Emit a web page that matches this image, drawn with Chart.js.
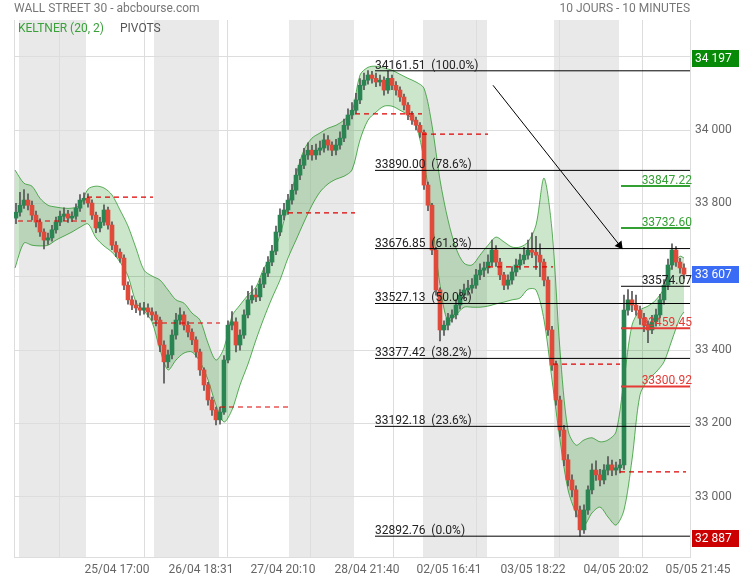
<!DOCTYPE html>
<html>
<head>
<meta charset="utf-8">
<script src="https://cdn.jsdelivr.net/npm/chart.js@4.4.0/dist/chart.umd.min.js"></script>
<style>
  html, body { margin: 0; padding: 0; background: #fff; }
  #wrap { width: 739px; height: 580px; }
</style>
</head>
<body>
<div id="wrap"><canvas id="chart" width="739" height="580"></canvas></div>
<script>
// === Data ===
const TITLE = 'WALL STREET 30 - abcbourse.com';
const PERIOD = '10 JOURS - 10 MINUTES';

// x axis: one unit = one candle slot
const tickPos = [22, 43, 63.5, 84.5, 105, 126, 146.75, 167.25];
const tickLabels = ['25/04 17:00', '26/04 18:31', '27/04 20:10', '28/04 21:40',
  '02/05 16:41', '03/05 18:22', '04/05 20:02', '05/05 21:45'];
const yTicks = [33000, 33200, 33400, 33600, 33800, 34000, 34200];

// trading sessions (boundaries) and their pivot
const sessionBounds = [1, 18.25, 34.75, 51.5, 68.5, 85.25, 102, 118.5, 134.75, 151.5, 168];
const pivots = [33752, 33817, 33474, 33245, 33774, 34044, 33989, 33627, 33362, 33068];

const opens = [33760,33776,33795,33809,33795,33768,33749,33722,33700,33706,
  33728,33749,33765,33771,33760,33765,33787,33809,33814,33801,
  33768,33733,33749,33782,33741,33686,33667,33651,33577,33537,
  33523,33515,33509,33515,33504,33496,33482,33414,33368,33387,
  33441,33482,33496,33468,33449,33428,33395,33346,33305,33264,
  33237,33210,33231,33373,33468,33477,33414,33441,33496,33537,
  33550,33545,33580,33610,33640,33670,33722,33768,33782,33809,
  33836,33877,33904,33932,33945,33932,33945,33951,33973,33959,
  33945,33959,33978,34013,34041,34054,34082,34122,34136,34150,
  34141,34131,34136,34109,34141,34122,34109,34090,34068,34041,
  34027,34013,33994,33850,33795,33673,33564,33455,33468,33488,
  33496,33523,33550,33564,33569,33577,33605,33618,33624,33640,
  33673,33640,33605,33577,33591,33613,33632,33646,33659,33673,
  33667,33659,33640,33591,33455,33359,33264,33182,33101,33046,
  33019,32964,32910,32964,33019,33073,33060,33046,33073,33087,
  33073,33079,33087,33509,33537,33523,33509,33487,33468,33455,
  33477,33496,33537,33577,33632,33673,33640,33624];
const highs = [33800,33830,33838,33826,33806,33779,33758,33731,33719,33740,
  33763,33779,33788,33781,33777,33799,33824,33829,33826,33810,
  33776,33762,33796,33790,33750,33696,33676,33660,33586,33548,
  33535,33528,33530,33526,33515,33505,33490,33425,33400,33455,
  33500,33515,33505,33478,33458,33436,33403,33352,33312,33272,
  33245,33245,33385,33480,33505,33488,33455,33510,33560,33575,
  33568,33595,33625,33655,33686,33738,33785,33800,33825,33852,
  33895,33920,33950,33965,33958,33962,33970,33990,33985,33968,
  33975,33995,34030,34058,34075,34100,34140,34155,34162,34160,
  34155,34150,34145,34161,34150,34132,34118,34098,34075,34050,
  34035,34020,34000,33858,33800,33680,33570,33480,33500,33510,
  33538,33565,33580,33590,33595,33620,33635,33640,33660,33700,
  33685,33650,33612,33605,33628,33648,33662,33680,33700,33720,
  33710,33690,33648,33600,33465,33370,33275,33195,33115,33060,
  33030,32975,32978,33030,33090,33098,33075,33088,33110,33100,
  33095,33102,33550,33565,33560,33550,33520,33500,33480,33495,
  33512,33552,33592,33648,33690,33682,33650,33635];
const lows = [33745,33765,33786,33782,33755,33736,33710,33676,33688,33697,
  33719,33739,33753,33748,33750,33756,33778,33798,33790,33756,
  33720,33722,33740,33730,33674,33655,33640,33565,33525,33510,
  33502,33495,33498,33490,33481,33466,33396,33310,33352,33376,
  33430,33470,33455,33436,33415,33381,33331,33290,33250,33222,
  33196,33198,33225,33365,33455,33395,33400,33432,33488,33528,
  33532,33535,33570,33600,33630,33660,33712,33755,33770,33798,
  33825,33865,33895,33920,33918,33920,33932,33940,33945,33930,
  33932,33948,33968,34002,34030,34045,34072,34110,34125,34128,
  34118,34120,34095,34100,34110,34095,34078,34055,34028,34015,
  34000,33980,33838,33780,33660,33550,33425,33440,33455,33476,
  33485,33512,33540,33550,33555,33568,33592,33600,33610,33630,
  33628,33592,33565,33566,33580,33602,33620,33635,33648,33652,
  33620,33600,33575,33440,33345,33250,33165,33085,33030,33000,
  32945,32893,32900,32952,33008,33045,33030,33035,33060,33058,
  33060,33065,33075,33495,33505,33495,33470,33450,33420,33445,
  33465,33488,33525,33565,33620,33628,33610,33595];
const closes = [33776,33795,33809,33795,33768,33749,33722,33700,33706,33728,
  33749,33765,33771,33760,33765,33787,33809,33814,33801,33768,
  33733,33749,33782,33741,33686,33667,33651,33577,33537,33523,
  33515,33509,33515,33504,33496,33482,33414,33368,33387,33441,
  33482,33496,33468,33449,33428,33395,33346,33305,33264,33237,
  33210,33231,33373,33468,33477,33414,33441,33496,33537,33550,
  33545,33580,33610,33640,33670,33722,33768,33782,33809,33836,
  33877,33904,33932,33945,33932,33945,33951,33973,33959,33945,
  33959,33978,34013,34041,34054,34082,34122,34136,34150,34141,
  34131,34136,34109,34141,34122,34109,34090,34068,34041,34027,
  34013,33994,33850,33795,33673,33564,33455,33468,33488,33496,
  33523,33550,33564,33569,33577,33605,33618,33624,33640,33673,
  33640,33605,33577,33591,33613,33632,33646,33659,33673,33667,
  33659,33640,33591,33455,33359,33264,33182,33101,33046,33019,
  32964,32910,32964,33019,33073,33060,33046,33073,33087,33073,
  33079,33087,33509,33537,33523,33509,33487,33468,33455,33477,
  33496,33537,33577,33632,33673,33640,33624,33607];

// Keltner (20, 2)
const bandX = [0.25,2.5,4.5,6.5,8.5,10.5,12.5,14.5,16.5,18.5,20.5,22.5,24.5,26.5,28.5,30.5,
  32.5,34.5,36.5,38.5,40.5,42.5,44.5,46.5,48.5,50.5,52.5,54.5,56.5,58.5,60.5,62.5,64.5,
  66.5,68.5,70.5,72.5,74.5,76.5,78.5,80.5,82.5,84.5,86.5,88.5,90.5,92.5,94.5,96.5,98.5,
  100.5,102.5,104.5,106.5,108.5,110.5,112.5,114.5,116.5,118.5,120.5,122.5,124.5,126.5,
  128.5,130.5,132.5,134.5,136.5,138.5,140.5,142.5,144.5,146.5,148.5,150.5,152.5,154.5,
  156.5,158.5,160.5,162.5,164.5,166.5,167.5];
const kcUpper = [33891,33855,33847,33814,33795,33790,33787,33787,33795,33839,33847,33842,
  33823,33782,33738,33678,33618,33602,33591,33564,33537,33528,33501,33482,33419,33373,
  33406,33493,33523,33550,33572,33624,33656,33714,33795,33877,33946,33978,33992,34005,
  34013,34027,34049,34150,34171,34174,34169,34163,34152,34141,34131,34114,34013,33864,
  33755,33678,33637,33632,33659,33686,33708,33695,33681,33681,33695,33741,33869,33727,
  33400,33182,33141,33155,33161,33150,33155,33177,33319,33468,33509,33520,33537,33569,
  33632,33656,33651];
const kcLower = [33624,33692,33686,33684,33686,33700,33711,33722,33735,33744,33706,33684,
  33667,33640,33602,33531,33507,33477,33401,33346,33373,33392,33395,33368,33319,33250,
  33204,33237,33305,33362,33428,33488,33542,33591,33651,33700,33749,33795,33831,33853,
  33866,33874,33891,33973,34027,34049,34065,34065,34054,34041,34013,33918,33755,33577,
  33477,33496,33517,33517,33517,33520,33526,33531,33537,33542,33566,33564,33482,33319,
  33155,33019,32956,32923,32956,32972,32945,32923,32964,33101,33278,33319,33340,33368,
  33428,33488,33504];

// Fibonacci retracement
const fibStart = 90.25;
const fibLevels = [34161.51, 33890.00, 33676.85, 33527.13, 33377.42, 33192.18, 32892.76];
const fibPct = ['100.0%', '78.6%', '61.8%', '50.0%', '38.2%', '23.6%', '0.0%'];

// levels of the last session
const lvlStart = 151.75;
const lvlValues = [33847.22, 33732.60, 33574.07, 33459.45, 33300.92];
const lvlKinds = ['up', 'up', 'pivot', 'down', 'down'];

// trend arrow
const arrowFrom = [119.75, 34122];
const arrowTo = [151.4, 33686];

// right axis badges
const badgeValues = [34197, 33607, 32887];
const badgeColors = ['#078a07', '#3b6cf6', '#cc0000'];

// === Style ===
const FONT = 'Roboto, "Open Sans", sans-serif';
const UP = '#2a8552', DOWN = '#df4a3a';
const LVL_COLORS = { up: '#33a033', pivot: '#000', down: '#e53935' };

const fmtK = v => {
  const s = String(Math.round(v));
  return s.slice(0, -3) + ' ' + s.slice(-3);
};

function segments(starts, ends, values) {
  const pts = [];
  values.forEach((v, k) => {
    pts.push({ x: starts[k], y: v }, { x: ends[k], y: v }, { x: ends[k], y: NaN });
  });
  return pts;
}

const pivotData = segments(sessionBounds.slice(0, -1), sessionBounds.slice(1), pivots);
const fibData = segments(fibLevels.map(() => fibStart), fibLevels.map(() => 169), fibLevels);
const lvlData = kind => segments(
  lvlValues.map(() => lvlStart), lvlValues.map(() => 169),
  lvlValues.filter((v, k) => lvlKinds[k] === kind));

const decor = {
  id: 'decor',
  beforeDraw(chart) {
    const { ctx, chartArea: a, scales: { x } } = chart;
    ctx.save();
    ctx.fillStyle = '#e9e9e9';
    for (let k = 0; k < sessionBounds.length - 1; k += 2) {
      const x0 = x.getPixelForValue(sessionBounds[k]) + 1;
      const x1 = x.getPixelForValue(sessionBounds[k + 1]) - 1;
      ctx.fillRect(x0, a.top, x1 - x0, a.bottom - a.top);
    }
    ctx.strokeStyle = '#ddd';
    ctx.lineWidth = 1;
    ctx.beginPath();
    ctx.moveTo(a.left + 0.5, a.top);
    ctx.lineTo(a.left + 0.5, a.bottom);
    ctx.stroke();
    ctx.restore();
  },
  afterDatasetsDraw(chart) {
    const { ctx, chartArea: a, scales: { x, y } } = chart;
    ctx.save();
    ctx.font = `12px ${FONT}`;
    ctx.textBaseline = 'alphabetic';
    ctx.fillStyle = '#222';
    ctx.textAlign = 'left';
    fibLevels.forEach((v, k) => {
      ctx.fillText(`${v.toFixed(2)}  (${fibPct[k]})`, x.getPixelForValue(fibStart), y.getPixelForValue(v) - 2);
    });
    ctx.textAlign = 'right';
    lvlValues.forEach((v, k) => {
      ctx.fillStyle = lvlKinds[k] === 'pivot' ? '#222' : LVL_COLORS[lvlKinds[k]];
      ctx.fillText(v.toFixed(2), a.right + 2, y.getPixelForValue(v) - 2);
    });
    // legend
    ctx.textAlign = 'left';
    ctx.textBaseline = 'middle';
    ctx.fillStyle = '#3aa13a';
    ctx.fillText('KELTNER (20, 2)', 18, 29);
    ctx.fillStyle = '#555';
    ctx.fillText('PIVOTS', 120, 29);
    ctx.restore();
  },
  afterDraw(chart) {
    const { ctx, chartArea: a, scales: { y }, width } = chart;
    ctx.save();
    ctx.font = `12px ${FONT}`;
    ctx.fillStyle = '#777';
    ctx.textBaseline = 'middle';
    ctx.textAlign = 'left';
    ctx.fillText(TITLE, 14, 9);
    ctx.textAlign = 'right';
    ctx.fillText(PERIOD, a.right, 9);
    ctx.textAlign = 'left';
    badgeValues.forEach((v, k) => {
      const py = Math.round(y.getPixelForValue(v));
      ctx.fillStyle = badgeColors[k];
      ctx.fillRect(a.right + 2, py - 8, width - a.right - 2, 17);
      ctx.fillStyle = '#fff';
      ctx.fillText(fmtK(v), a.right + 5, py + 0.5);
    });
    ctx.restore();
  }
};

new Chart(document.getElementById('chart'), {
  type: 'bar',
  data: {
    datasets: [
      {
        type: 'line', data: bandX.map((x, i) => ({ x, y: kcUpper[i] })),
        borderColor: 'rgba(40,150,40,0.75)', borderWidth: 1, pointRadius: 0,
        backgroundColor: 'rgba(0,130,0,0.2)', fill: '+1', tension: 0.3, order: 10
      },
      {
        type: 'line', data: bandX.map((x, i) => ({ x, y: kcLower[i] })),
        borderColor: 'rgba(40,150,40,0.75)', borderWidth: 1, pointRadius: 0,
        fill: false, tension: 0.3, order: 10
      },
      {
        data: closes.map((c, i) => ({ x: i + 0.5, y: [lows[i], highs[i]] })),
        backgroundColor: '#555', barThickness: 1, grouped: false, order: 8
      },
      {
        data: closes.map((c, i) => ({ x: i + 0.5, y: [opens[i], c] })),
        backgroundColor: closes.map((c, i) => c >= opens[i] ? UP : DOWN),
        barThickness: 4, grouped: false, minBarLength: 1, order: 7
      },
      {
        type: 'line', data: pivotData, borderColor: '#e00000', borderWidth: 1.2,
        borderDash: [5, 4], pointRadius: 0, spanGaps: false, order: 5
      },
      {
        type: 'line', data: fibData, borderColor: '#000', borderWidth: 1,
        pointRadius: 0, spanGaps: false, order: 3
      },
      {
        type: 'line', data: lvlData('pivot'), borderColor: LVL_COLORS.pivot, borderWidth: 1,
        pointRadius: 0, spanGaps: false, order: 3
      },
      {
        type: 'line', data: lvlData('up'), borderColor: LVL_COLORS.up, borderWidth: 2,
        pointRadius: 0, spanGaps: false, order: 3
      },
      {
        type: 'line', data: lvlData('down'), borderColor: LVL_COLORS.down, borderWidth: 2,
        pointRadius: 0, spanGaps: false, order: 3
      },
      {
        type: 'line',
        data: [{ x: arrowFrom[0], y: arrowFrom[1] }, { x: arrowTo[0], y: arrowTo[1] }],
        borderColor: '#000', borderWidth: 1, pointStyle: 'triangle',
        pointRadius: [0, 5], pointRotation: 142, pointBackgroundColor: '#000',
        pointBorderWidth: 0, order: 1
      }
    ]
  },
  options: {
    responsive: false,
    animation: false,
    devicePixelRatio: 1,
    layout: { padding: { left: 14, top: 20, right: 0, bottom: 0 } },
    plugins: { legend: { display: false }, tooltip: { enabled: false } },
    scales: {
      x: {
        type: 'linear', min: 0, max: 169, offset: false,
        afterBuildTicks: s => { s.ticks = tickPos.map(v => ({ value: v })); },
        afterFit: s => { s.height = 23; },
        grid: { color: '#ddd', drawTicks: false },
        border: { color: '#ddd' },
        ticks: {
          autoSkip: false, maxRotation: 0, padding: 6, labelOffset: 15,
          color: '#666', font: { family: FONT, size: 12 },
          callback: (v, i) => tickLabels[i]
        }
      },
      y: {
        position: 'right', min: 32836, max: 34300,
        afterBuildTicks: s => { s.ticks = yTicks.map(v => ({ value: v })); },
        afterFit: s => { s.width = 49; },
        grid: { color: '#ddd', drawTicks: false },
        border: { color: '#ddd' },
        ticks: { padding: 5, color: '#666', font: { family: FONT, size: 12 }, callback: v => fmtK(v) }
      }
    }
  },
  plugins: [decor]
});
</script>
</body>
</html>
